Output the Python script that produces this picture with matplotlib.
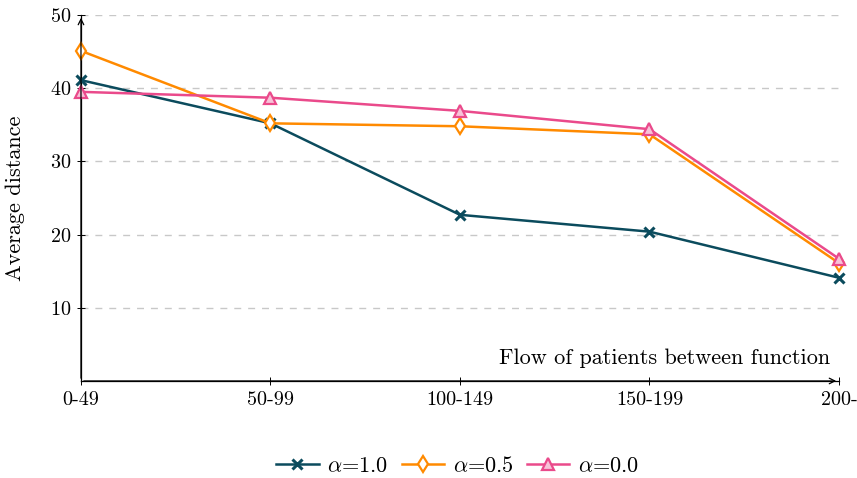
import matplotlib
matplotlib.use("Agg")
import matplotlib.pyplot as plt
import numpy as np

plt.rcParams["font.family"] = "serif"
plt.rcParams["font.serif"] = ["cmr10", "DejaVu Serif"]
plt.rcParams["mathtext.fontset"] = "cm"
plt.rcParams["axes.formatter.use_mathtext"] = True

categories = ["0-49", "50-99", "100-149", "150-199", "200-"]
alpha_10 = [41.1, 35.2, 22.7, 20.4, 14.1]
alpha_05 = [45.1, 35.2, 34.8, 33.7, 16.1]
alpha_00 = [39.5, 38.7, 36.9, 34.4, 16.7]

teal = "#0b4b5d"
orange = "#ff8a00"
pink = "#ea4a8b"

fig = plt.figure(figsize=(8.57, 4.78), dpi=100)
ax = fig.add_axes([0.0945, 0.203, 0.8845, 0.7656])

x = np.arange(len(categories))
ax.plot(x, alpha_10, color=teal, lw=1.8, marker="x", ms=6.5, mew=2.2,
        label=r"$\alpha$=1.0", zorder=3, clip_on=False)
ax.plot(x, alpha_05, color=orange, lw=1.8, marker="d", ms=8, mew=1.6,
        mfc="white", label=r"$\alpha$=0.5", zorder=3, clip_on=False)
ax.plot(x, alpha_00, color=pink, lw=1.8, marker="^", ms=8, mew=1.6,
        mfc="#f7c2d8", label=r"$\alpha$=0.0", zorder=3, clip_on=False)

ax.set_xlim(0, len(categories) - 1)
ax.set_ylim(0, 50)
ax.set_xticks(x)
ax.set_xticklabels(categories)
ax.set_yticks([10, 20, 30, 40, 50])
ax.tick_params(labelsize=14.5, direction="inout", length=6, width=0.7, pad=4)
ax.yaxis.grid(True, ls=(0, (5, 5)), color="#c8c8c8", lw=1)
ax.set_axisbelow(True)

for s in ["top", "right"]:
    ax.spines[s].set_visible(False)
for s in ["left", "bottom"]:
    ax.spines[s].set_linewidth(0.9)
ax.annotate("", xy=(0, 1.0), xytext=(0, 0), xycoords="axes fraction",
            arrowprops=dict(arrowstyle="->", lw=0.9, color="black"))
ax.annotate("", xy=(1.0, 0), xytext=(0, 0), xycoords="axes fraction",
            arrowprops=dict(arrowstyle="->", lw=0.9, color="black"))

ax.text(0.988, 0.035, "Flow of patients between function", transform=ax.transAxes,
        ha="right", va="bottom", fontsize=16)
ax.set_ylabel("Average distance", fontsize=16, labelpad=18)

leg = fig.legend(loc="center", bbox_to_anchor=(0.534, 0.025), ncol=3, frameon=False,
                 fontsize=16, handlelength=1.9, columnspacing=0.6, handletextpad=0.4)

fig.savefig("out.png", dpi=100)
